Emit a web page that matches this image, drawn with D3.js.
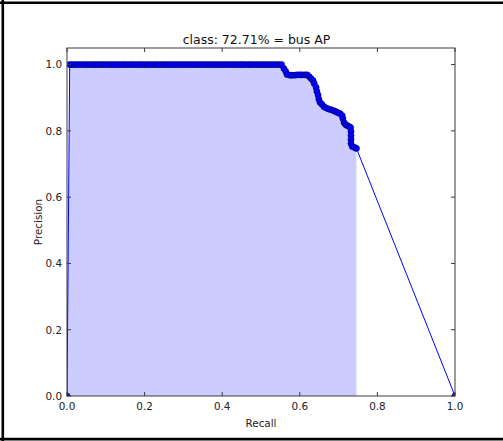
<!DOCTYPE html>
<html lang="en">
<head>
  <meta charset="UTF-8">
  <title>bus AP</title>
  <script src="https://d3js.org/d3.v7.min.js"></script>
  <style>
    body { margin: 0; background: #fff; font-family: "DejaVu Sans", sans-serif; }
    svg { display: block; }
    .tick-label { font-size: 10.4px; fill: #222; }
  </style>
</head>
<body>
  <script>
    // Precision / recall points (first and last are the padded ends)
    const recall = [
      0.000,
      0.007, 0.013, 0.020, 0.027, 0.033, 0.040, 0.047, 0.053, 0.060, 0.067,
      0.073, 0.080, 0.087, 0.093, 0.100, 0.107, 0.113, 0.120, 0.127, 0.133,
      0.140, 0.147, 0.153, 0.160, 0.167, 0.173, 0.180, 0.187, 0.193, 0.200,
      0.207, 0.213, 0.220, 0.227, 0.233, 0.240, 0.247, 0.253, 0.260, 0.267,
      0.273, 0.280, 0.287, 0.293, 0.300, 0.307, 0.313, 0.320, 0.327, 0.333,
      0.340, 0.347, 0.353, 0.360, 0.367, 0.373, 0.380, 0.387, 0.393, 0.400,
      0.407, 0.413, 0.420, 0.427, 0.433, 0.440, 0.447, 0.453, 0.460, 0.467,
      0.473, 0.480, 0.487, 0.493, 0.500, 0.507, 0.513, 0.520, 0.527, 0.533,
      0.540, 0.547, 0.553,
      0.559, 0.564, 0.567, 0.575, 0.580, 0.587, 0.593, 0.600, 0.606, 0.613,
      0.619, 0.624, 0.629, 0.634, 0.637, 0.642, 0.644, 0.647, 0.649, 0.652,
      0.657, 0.662, 0.668, 0.674, 0.680, 0.687, 0.693, 0.698, 0.704, 0.709,
      0.711, 0.714, 0.718, 0.722, 0.727, 0.731, 0.732, 0.732, 0.732, 0.732,
      0.735, 0.741, 0.746,
      1.000
    ];
    const precision = [
      0.000,
      1.0, 1.0, 1.0, 1.0, 1.0, 1.0, 1.0, 1.0, 1.0, 1.0,
      1.0, 1.0, 1.0, 1.0, 1.0, 1.0, 1.0, 1.0, 1.0, 1.0,
      1.0, 1.0, 1.0, 1.0, 1.0, 1.0, 1.0, 1.0, 1.0, 1.0,
      1.0, 1.0, 1.0, 1.0, 1.0, 1.0, 1.0, 1.0, 1.0, 1.0,
      1.0, 1.0, 1.0, 1.0, 1.0, 1.0, 1.0, 1.0, 1.0, 1.0,
      1.0, 1.0, 1.0, 1.0, 1.0, 1.0, 1.0, 1.0, 1.0, 1.0,
      1.0, 1.0, 1.0, 1.0, 1.0, 1.0, 1.0, 1.0, 1.0, 1.0,
      1.0, 1.0, 1.0, 1.0, 1.0, 1.0, 1.0, 1.0, 1.0, 1.0,
      1.0, 1.0, 1.0,
      0.988, 0.979, 0.970, 0.968, 0.968, 0.968, 0.969, 0.969, 0.969, 0.969,
      0.969, 0.964, 0.958, 0.952, 0.943, 0.931, 0.919, 0.908, 0.896, 0.886,
      0.880, 0.873, 0.869, 0.866, 0.864, 0.861, 0.858, 0.855, 0.852, 0.846,
      0.837, 0.825, 0.819, 0.816, 0.813, 0.810, 0.798, 0.786, 0.774, 0.762,
      0.753, 0.750, 0.747,
      0.000
    ];
    const xTicks = [0, 0.2, 0.4, 0.6, 0.8, 1.0];
    const yTicks = [0, 0.2, 0.4, 0.6, 0.8, 1.0];
    const title = "class: 72.71% = bus AP";

    const W = 503, H = 441;
    const plotLeft = 67, plotRight = 455, plotTop = 48, plotBottom = 396;

    const svg = d3.select("body").append("svg")
      .attr("width", W).attr("height", H);

    // outer frame (no right edge in the picture)
    svg.append("line").attr("x1", 2.8).attr("x2", 2.8).attr("y1", 0).attr("y2", H)
      .attr("stroke", "#000").attr("stroke-width", 2.6);
    svg.append("line").attr("x1", 0).attr("x2", W).attr("y1", 2.8).attr("y2", 2.8)
      .attr("stroke", "#000").attr("stroke-width", 2.6);
    svg.append("line").attr("x1", 0).attr("x2", W).attr("y1", 439.2).attr("y2", 439.2)
      .attr("stroke", "#000").attr("stroke-width", 2.8);

    const x = d3.scaleLinear().domain([0, 1]).range([plotLeft, plotRight]);
    const y = d3.scaleLinear().domain([0, 1.05]).range([plotBottom, plotTop]);

    const pts = recall.map((r, i) => ({ r: r, p: precision[i] }));

    svg.append("clipPath").attr("id", "plot-clip")
      .append("rect")
      .attr("x", plotLeft).attr("y", plotTop)
      .attr("width", plotRight - plotLeft).attr("height", plotBottom - plotTop);

    const plot = svg.append("g").attr("clip-path", "url(#plot-clip)");

    // shaded area up to the last real point
    const area = d3.area()
      .x(d => x(d.r))
      .y0(y(0))
      .y1(d => y(d.p));
    plot.append("path")
      .datum(pts.slice(0, pts.length - 1))
      .attr("d", area)
      .attr("fill", "#ccccff")
      .attr("stroke", "none");

    const line = d3.line().x(d => x(d.r)).y(d => y(d.p));
    plot.append("path")
      .datum(pts)
      .attr("d", line)
      .attr("fill", "none")
      .attr("stroke", "#0000ff")
      .attr("stroke-width", 1);

    plot.selectAll("circle")
      .data(pts)
      .enter()
      .append("circle")
      .attr("cx", d => x(d.r))
      .attr("cy", d => y(d.p))
      .attr("r", 3.1)
      .attr("fill", "#0000ff")
      .attr("stroke", "#000044")
      .attr("stroke-width", 0.5);

    // axes frame
    svg.append("rect")
      .attr("x", plotLeft).attr("y", plotTop)
      .attr("width", plotRight - plotLeft).attr("height", plotBottom - plotTop)
      .attr("fill", "none")
      .attr("stroke", "#3a3a3a")
      .attr("stroke-width", 1);

    // ticks pointing inward on all four sides
    const tickLen = 4;
    const axes = svg.append("g").attr("stroke", "#3a3a3a").attr("stroke-width", 1);
    xTicks.forEach(t => {
      axes.append("line").attr("x1", x(t)).attr("x2", x(t))
        .attr("y1", plotBottom).attr("y2", plotBottom - tickLen);
      axes.append("line").attr("x1", x(t)).attr("x2", x(t))
        .attr("y1", plotTop).attr("y2", plotTop + tickLen);
    });
    yTicks.forEach(t => {
      axes.append("line").attr("x1", plotLeft).attr("x2", plotLeft + tickLen)
        .attr("y1", y(t)).attr("y2", y(t));
      axes.append("line").attr("x1", plotRight).attr("x2", plotRight - tickLen)
        .attr("y1", y(t)).attr("y2", y(t));
    });

    const fmt = d3.format(".1f");
    svg.append("g").selectAll("text")
      .data(xTicks)
      .enter()
      .append("text")
      .attr("class", "tick-label")
      .attr("x", d => x(d))
      .attr("y", 409.5)
      .attr("text-anchor", "middle")
      .text(d => fmt(d));

    svg.append("g").selectAll("text")
      .data(yTicks)
      .enter()
      .append("text")
      .attr("class", "tick-label")
      .attr("x", 62)
      .attr("y", d => y(d) + 3.8)
      .attr("text-anchor", "end")
      .text(d => fmt(d));

    svg.append("text")
      .attr("class", "tick-label")
      .attr("x", (plotLeft + plotRight) / 2)
      .attr("y", 427)
      .attr("text-anchor", "middle")
      .text("Recall");

    svg.append("text")
      .attr("class", "tick-label")
      .attr("transform", `translate(41.5, ${(plotTop + plotBottom) / 2}) rotate(-90)`)
      .attr("text-anchor", "middle")
      .text("Precision");

    svg.append("text")
      .attr("x", 256.5)
      .attr("y", 43.5)
      .attr("text-anchor", "middle")
      .style("font-size", "12.5px")
      .style("fill", "#111")
      .text(title);
  </script>
</body>
</html>
